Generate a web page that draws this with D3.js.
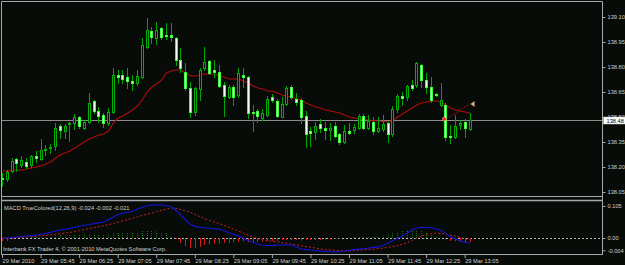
<!DOCTYPE html>
<html>
<head>
<meta charset="utf-8">
<script src="https://cdn.jsdelivr.net/npm/d3@7"></script>
<style>
  body { margin: 0; background: #080c08; }
  svg { display: block; }
  text { font-family: "Liberation Sans", Arial, sans-serif; font-size: 5.7px; fill: #d0d0d0; }
</style>
</head>
<body>
<svg id="chart"></svg>
<script>
const w = 625;
const h = 265;

// M5 bars, 29 Mar 2010 05:05 .. 13:10
const opens = [138.134,138.128,138.176,138.248,138.212,138.230,138.212,138.266,138.248,138.305,
  138.314,138.326,138.446,138.416,138.458,138.464,138.500,138.434,138.470,138.596,
  138.536,138.512,138.464,138.530,138.752,138.752,138.740,138.716,138.704,138.740,
  138.920,139.016,138.974,139.034,138.992,138.992,138.974,138.842,138.770,138.674,
  138.530,138.668,138.794,138.836,138.782,138.770,138.692,138.620,138.680,138.632,
  138.752,138.740,138.530,138.536,138.494,138.512,138.620,138.596,138.500,138.578,
  138.680,138.608,138.602,138.506,138.416,138.410,138.458,138.434,138.422,138.446,
  138.398,138.350,138.416,138.422,138.434,138.506,138.434,138.470,138.416,138.428,
  138.464,138.398,138.548,138.626,138.620,138.692,138.692,138.812,138.722,138.680,
  138.638,138.572,138.572,138.386,138.380,138.452,138.470,138.428];
const highs = [138.164,138.182,138.254,138.254,138.266,138.254,138.272,138.296,138.368,138.332,
  138.338,138.464,138.458,138.458,138.470,138.518,138.506,138.482,138.644,138.602,
  138.560,138.524,138.554,138.794,138.782,138.782,138.794,138.752,138.782,138.974,
  139.094,139.040,139.070,139.040,139.064,139.064,138.980,138.914,138.824,138.710,
  138.680,138.794,138.920,138.842,138.842,138.812,138.710,138.692,138.692,138.794,
  138.794,138.746,138.572,138.548,138.548,138.626,138.638,138.608,138.620,138.686,
  138.692,138.644,138.614,138.536,138.440,138.470,138.488,138.470,138.464,138.470,
  138.404,138.452,138.464,138.458,138.518,138.518,138.512,138.500,138.500,138.512,
  138.470,138.566,138.638,138.650,138.692,138.722,138.830,138.818,138.764,138.740,
  138.644,138.704,138.584,138.452,138.512,138.482,138.488,138.524];
const lows = [138.086,138.116,138.170,138.176,138.200,138.194,138.200,138.230,138.242,138.272,
  138.284,138.302,138.374,138.374,138.356,138.428,138.434,138.428,138.464,138.524,
  138.470,138.440,138.452,138.524,138.704,138.704,138.674,138.662,138.692,138.734,
  138.914,138.944,138.938,138.968,138.968,138.956,138.812,138.770,138.662,138.500,
  138.512,138.602,138.782,138.758,138.740,138.680,138.506,138.614,138.572,138.620,
  138.680,138.494,138.416,138.470,138.482,138.506,138.590,138.500,138.497,138.572,
  138.608,138.572,138.464,138.320,138.326,138.368,138.410,138.368,138.362,138.380,
  138.338,138.344,138.398,138.404,138.428,138.428,138.428,138.398,138.410,138.416,
  138.350,138.386,138.530,138.572,138.602,138.662,138.680,138.680,138.644,138.590,
  138.626,138.566,138.362,138.344,138.374,138.428,138.380,138.422];
const closes = [138.128,138.170,138.236,138.224,138.242,138.206,138.266,138.254,138.302,138.308,
  138.320,138.434,138.422,138.446,138.464,138.500,138.446,138.470,138.584,138.536,
  138.506,138.464,138.530,138.752,138.740,138.728,138.716,138.704,138.746,138.932,
  139.022,138.980,139.022,138.980,138.989,138.980,138.842,138.794,138.674,138.530,
  138.674,138.782,138.830,138.764,138.770,138.686,138.626,138.680,138.620,138.764,
  138.740,138.524,138.524,138.506,138.524,138.608,138.602,138.506,138.578,138.674,
  138.620,138.590,138.500,138.398,138.404,138.446,138.434,138.422,138.434,138.386,
  138.350,138.416,138.404,138.440,138.506,138.434,138.476,138.416,138.434,138.458,
  138.398,138.548,138.626,138.614,138.686,138.674,138.824,138.722,138.680,138.602,
  138.632,138.602,138.380,138.380,138.446,138.464,138.434,138.480];

const maValues = [138.176,138.176,138.179,138.182,138.182,138.188,138.194,138.200,138.206,138.218,
  138.230,138.254,138.272,138.284,138.296,138.314,138.332,138.350,138.368,138.380,
  138.392,138.398,138.416,138.464,138.494,138.506,138.524,138.542,138.566,138.602,
  138.650,138.680,138.698,138.722,138.764,138.776,138.782,138.782,138.764,138.746,
  138.746,138.752,138.758,138.758,138.758,138.746,138.740,138.728,138.728,138.728,
  138.716,138.704,138.686,138.674,138.668,138.656,138.656,138.644,138.632,138.626,
  138.620,138.608,138.602,138.584,138.572,138.560,138.554,138.542,138.536,138.530,
  138.524,138.512,138.500,138.494,138.488,138.485,138.482,138.479,138.476,138.473,
  138.470,138.482,138.500,138.518,138.536,138.554,138.572,138.584,138.590,138.596,
  138.596,138.590,138.572,138.554,138.542,138.536,138.530,138.524];

const macdValues = [-0.0010,0.0000,0.0016,0.0033,0.0049,0.0066,0.0079,0.0098,0.0125,0.0154,
  0.0187,0.0230,0.0262,0.0289,0.0315,0.0351,0.0387,0.0417,0.0443,0.0476,
  0.0505,0.0525,0.0607,0.0689,0.0771,0.0820,0.0846,0.0876,0.0951,0.1010,
  0.1056,0.1082,0.1082,0.1082,0.1066,0.1017,0.0902,0.0754,0.0590,0.0449,
  0.0374,0.0351,0.0335,0.0318,0.0305,0.0289,0.0236,0.0174,0.0118,0.0062,
  -0.0007,-0.0085,-0.0148,-0.0203,-0.0236,-0.0246,-0.0249,-0.0236,-0.0230,-0.0230,
  -0.0236,-0.0295,-0.0361,-0.0380,-0.0394,-0.0410,-0.0426,-0.0440,-0.0449,-0.0449,
  -0.0449,-0.0426,-0.0400,-0.0380,-0.0364,-0.0348,-0.0328,-0.0308,-0.0292,-0.0239,
  -0.0164,-0.0082,-0.0007,0.0075,0.0164,0.0269,0.0328,0.0351,0.0344,0.0335,
  0.0302,0.0249,0.0144,0.0039,-0.0033,-0.0098,-0.0138,-0.0174];
const signalValues = [-0.0010,-0.0003,0.0007,0.0016,0.0026,0.0036,0.0046,0.0062,0.0079,0.0089,
  0.0102,0.0121,0.0144,0.0164,0.0184,0.0213,0.0243,0.0276,0.0308,0.0341,
  0.0374,0.0407,0.0440,0.0479,0.0522,0.0564,0.0607,0.0649,0.0695,0.0741,
  0.0781,0.0817,0.0863,0.0909,0.0945,0.0984,0.0974,0.0932,0.0889,0.0843,
  0.0771,0.0699,0.0630,0.0574,0.0522,0.0469,0.0413,0.0354,0.0292,0.0226,
  0.0157,0.0092,0.0026,-0.0023,-0.0056,-0.0082,-0.0108,-0.0128,-0.0148,-0.0177,
  -0.0203,-0.0226,-0.0256,-0.0279,-0.0305,-0.0331,-0.0358,-0.0377,-0.0390,-0.0403,
  -0.0417,-0.0420,-0.0426,-0.0413,-0.0400,-0.0390,-0.0377,-0.0364,-0.0348,-0.0328,
  -0.0305,-0.0279,-0.0246,-0.0203,-0.0157,-0.0082,0.0000,0.0066,0.0115,0.0148,
  0.0154,0.0154,0.0121,0.0098,0.0059,0.0016,-0.0026,-0.0066];
const histValues = [-0.0098,-0.0098,-0.0033,0.0016,0.0016,0.0016,0.0033,0.0033,0.0033,0.0049,
  0.0066,0.0082,0.0098,0.0098,0.0115,0.0115,0.0131,0.0131,0.0115,0.0115,
  0.0115,0.0098,0.0131,0.0164,0.0197,0.0197,0.0197,0.0180,0.0197,0.0230,
  0.0230,0.0230,0.0213,0.0197,0.0164,0.0066,-0.0033,-0.0164,-0.0262,-0.0328,
  -0.0328,-0.0295,-0.0230,-0.0213,-0.0197,-0.0180,-0.0164,-0.0164,-0.0148,-0.0131,
  -0.0115,-0.0131,-0.0164,-0.0131,-0.0115,-0.0098,-0.0098,-0.0082,-0.0066,-0.0066,
  -0.0066,-0.0066,-0.0082,-0.0066,-0.0066,-0.0066,-0.0066,-0.0049,-0.0049,-0.0033,
  -0.0033,-0.0016,0.0016,0.0033,0.0033,0.0049,0.0049,0.0049,0.0049,0.0082,
  0.0131,0.0164,0.0197,0.0230,0.0262,0.0279,0.0262,0.0230,0.0197,0.0131,
  0.0066,0.0000,-0.0049,-0.0098,-0.0098,-0.0115,-0.0131,-0.0131];

const priceTicks = [139.10, 138.95, 138.80, 138.65, 138.50, 138.35, 138.20, 138.05];
const macdTicks = [0.105, 0, -0.04];
const macdTickLabels = ["0.105", "0.00", "-0.004"];
const timeTicks = [0, 8, 16, 24, 32, 40, 48, 56, 64, 72, 80, 88, 96];
const timeLabels = ["29 Mar 2010", "29 Mar 05:45", "29 Mar 06:25", "29 Mar 07:05", "29 Mar 07:45",
  "29 Mar 08:25", "29 Mar 09:05", "29 Mar 09:45", "29 Mar 10:25", "29 Mar 11:05",
  "29 Mar 11:45", "29 Mar 12:25", "29 Mar 13:05"];
const lastPrice = 138.48;
const tradeBars = [92, 97];
const tradePrices = [138.488, 138.578];

const macdTitle = "MACD TrueColored(12,26,9) -0.024 -0.002 -0.021";
const footer = "Interbank FX Trader 4, \u00a9 2001-2010 MetaQuotes Software Corp.";

const bars = opens.map((o, i) => ({ i: i, o: o, h: highs[i], l: lows[i], c: closes[i] }));

const svg = d3.select("#chart")
  .attr("width", w)
  .attr("height", h)
  .attr("viewBox", [0, 0, w, h]);

const plotRight = 602.5;
const x = d3.scaleLinear().domain([0, 97]).range([2, 469.5]);
const y = d3.scaleLinear().domain([138.05, 139.10]).range([192, 17]);
const my = d3.scaleLinear().domain([0, 0.105]).range([238, 206]);
const px = i => Math.round(x(i)) + 0.5;

svg.append("rect").attr("width", w).attr("height", h).attr("fill", "#080c08");

svg.append("defs").append("clipPath").attr("id", "mainClip")
  .append("rect").attr("x", 2).attr("y", 2).attr("width", plotRight - 2).attr("height", 194);

const main = svg.append("g").attr("clip-path", "url(#mainClip)");

// last price line
main.append("line")
  .attr("x1", 1).attr("x2", plotRight)
  .attr("y1", Math.round(y(lastPrice)) + 0.5).attr("y2", Math.round(y(lastPrice)) + 0.5)
  .attr("stroke", "#8c8c8c");

// moving average
main.append("path")
  .datum(maValues)
  .attr("fill", "none")
  .attr("stroke", "#b00c0c")
  .attr("stroke-width", 1.1)
  .attr("d", d3.line().x((d, i) => x(i) + 0.5).y(d => y(d)));

// candles
const candles = main.append("g").selectAll("g").data(bars).enter().append("g");

candles.append("line")
  .attr("x1", d => px(d.i)).attr("x2", d => px(d.i))
  .attr("y1", d => Math.round(y(d.h))).attr("y2", d => Math.round(y(d.l)) + 1)
  .attr("stroke", "#00a400");

candles.append("rect")
  .attr("x", d => Math.round(x(d.i)) - 0.5)
  .attr("y", d => Math.round(y(Math.max(d.o, d.c))) + 0.5)
  .attr("width", 2)
  .attr("height", d => Math.max(1, Math.round(y(Math.min(d.o, d.c))) - Math.round(y(Math.max(d.o, d.c)))))
  .attr("fill", d => d.c >= d.o ? "#080c08" : "#f2fff2")
  .attr("stroke", d => d.c >= d.o ? "#00b000" : "#3cff3c");

// trade markers
main.append("line")
  .attr("x1", x(tradeBars[0]) + 1).attr("y1", y(tradePrices[0]))
  .attr("x2", x(tradeBars[1])).attr("y2", y(tradePrices[1]))
  .attr("stroke", "#d01010")
  .attr("stroke-dasharray", "1.5,1.5");

main.append("circle")
  .attr("cx", x(tradeBars[0]) - 1).attr("cy", y(tradePrices[0]))
  .attr("r", 2)
  .attr("fill", "#ff2020")
  .attr("stroke", "#ffd0d0")
  .attr("stroke-width", 0.5);

main.append("path")
  .attr("d", () => {
    const tx = x(tradeBars[1]) + 1, ty = y(tradePrices[1]);
    return `M${tx},${ty} L${tx + 4},${ty - 3} L${tx + 4},${ty + 3} Z`;
  })
  .attr("fill", "#e0b078");

// MACD panel
const macdG = svg.append("g");

macdG.append("line")
  .attr("x1", 2).attr("x2", plotRight)
  .attr("y1", my(0) + 0.5).attr("y2", my(0) + 0.5)
  .attr("stroke", "#b8b8b8")
  .attr("stroke-dasharray", "2,2");

macdG.append("g").selectAll("line").data(histValues).enter().append("line")
  .attr("x1", (d, i) => px(i)).attr("x2", (d, i) => px(i))
  .attr("y1", my(0))
  .attr("y2", d => my(d))
  .attr("stroke", d => d >= 0 ? "#127a12" : "#d41a1a")
  .attr("stroke-dasharray", d => d >= 0 ? "1,1" : null);

macdG.append("path")
  .datum(signalValues)
  .attr("fill", "none")
  .attr("stroke", "#d02020")
  .attr("stroke-dasharray", "2,2")
  .attr("d", d3.line().x((d, i) => x(i) + 0.5).y(d => my(d)));

macdG.append("path")
  .datum(macdValues)
  .attr("fill", "none")
  .attr("stroke", "#1414e0")
  .attr("stroke-width", 1.1)
  .attr("d", d3.line().x((d, i) => x(i) + 0.5).y(d => my(d)));

macdG.append("text").attr("x", 4).attr("y", 210).text(macdTitle);
macdG.append("text").attr("x", 3).attr("y", 251).text(footer);

// frames
const frame = svg.append("g").attr("stroke", "#a8a8a8").attr("fill", "none");
frame.append("path").attr("d", `M1.5,255 V1.5 H${plotRight} V255`);
frame.append("line").attr("x1", 1).attr("x2", plotRight).attr("y1", 196.5).attr("y2", 196.5);
frame.append("line").attr("x1", 1).attr("x2", plotRight).attr("y1", 200.5).attr("y2", 200.5).attr("stroke-width", 1.5);
frame.append("line").attr("x1", 1).attr("x2", plotRight + 0.5).attr("y1", 254.5).attr("y2", 254.5);

// axes
function styleAxis(g) {
  g.select(".domain").remove();
  g.selectAll(".tick line").attr("stroke", "#a8a8a8");
  g.selectAll(".tick text").attr("fill", "#d0d0d0").style("font-size", "5.7px")
    .style("font-family", "'Liberation Sans', Arial, sans-serif");
}

svg.append("g")
  .attr("transform", `translate(${plotRight},0)`)
  .call(d3.axisRight(y).tickValues(priceTicks).tickFormat(d3.format(".2f")).tickSize(3).tickPadding(2))
  .call(styleAxis);

svg.append("g")
  .attr("transform", `translate(${plotRight},0)`)
  .call(d3.axisRight(my).tickValues(macdTicks).tickFormat((d, i) => macdTickLabels[i]).tickSize(3).tickPadding(2))
  .call(styleAxis);

svg.append("g")
  .attr("transform", "translate(0,255)")
  .call(d3.axisBottom(x).tickValues(timeTicks).tickFormat((d, i) => timeLabels[i]).tickSize(3).tickPadding(1))
  .call(styleAxis)
  .call(g => g.selectAll(".tick text").attr("text-anchor", "start").attr("x", 0));

// last price label (covers the 138.50 tick label, as in the terminal)
const lp = svg.append("g").attr("transform", `translate(${plotRight + 1},${Math.round(y(lastPrice)) + 0.5})`);
lp.append("rect").attr("x", 0).attr("y", -3.5).attr("width", 22).attr("height", 7)
  .attr("fill", "#ffffff").attr("stroke", "#c0c0c0").attr("stroke-width", 0.5);
lp.append("text").attr("x", 3).attr("y", 2).style("fill", "#000000").text(d3.format(".2f")(lastPrice));
</script>
</body>
</html>
